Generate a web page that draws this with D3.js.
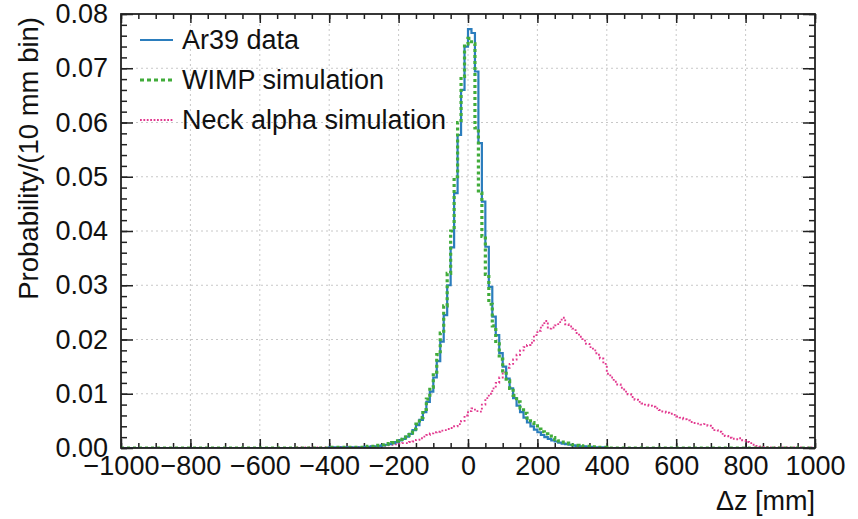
<!DOCTYPE html>
<html>
<head>
<meta charset="utf-8">
<script src="https://cdn.jsdelivr.net/npm/d3@7"></script>
<style>
  body { margin: 0; background: #fff; }
  #graf { width: 858px; height: 519px; }
  text { font-family: "Liberation Sans", Arial, Helvetica, sans-serif; fill: #111; }
</style>
</head>
<body>
<div id="graf"></div>
<script>
// ---------------- datos ----------------
// bins de 10 mm, de -1000 a 1000 (200 bins), valor = probabilidad por bin
const binStart = -1000
const binWidth = 10

const ar39 = [
  0,0,0,0,0,0,0,0,0,0,
  0,0,0,0,0,0,0,0,0,0,
  0,0,0,0,0,0,0,0,0,0,
  0,0,0,0,0,0,0,0,0,0,
  0,0,0,0,0,0,0,0,0,0,
  0,0,0,0,0,0,0,0,0,0,
  0.0001,0.0001,0.0001,0.0001,0.0001,0.0001,0.0001,0.0001,0.0001,0.0001,
  0.0002,0.0002,0.0003,0.0003,0.0004,0.0005,0.0006,0.0007,0.0009,0.0011,
  0.0014,0.0017,0.0021,0.0026,0.0033,0.0042,0.0052,0.0066,0.0085,0.0104,
  0.0130,0.0160,0.0196,0.0245,0.0300,0.0370,0.0470,0.0577,0.0660,0.0740,
  0.0772,0.0765,0.0694,0.0562,0.0454,0.0371,0.0297,0.0242,0.0208,0.0175,
  0.0150,0.0128,0.0110,0.0092,0.0078,0.0066,0.0056,0.0047,0.0040,0.0034,
  0.0029,0.0024,0.0020,0.0017,0.0014,0.0012,0.0010,0.0008,0.0007,0.0006,
  0.0005,0.0004,0.0003,0.0003,0.0002,0.0002,0.0001,0.0001,0.0001,0.0001,
  0,0,0,0,0,0,0,0,0,0,
  0,0,0,0,0,0,0,0,0,0,
  0,0,0,0,0,0,0,0,0,0,
  0,0,0,0,0,0,0,0,0,0,
  0,0,0,0,0,0,0,0,0,0,
  0,0,0,0,0,0,0,0,0,0
]

const wimp = [
  0,0,0,0,0,0,0,0,0,0,
  0,0,0,0,0,0,0,0,0,0,
  0,0,0,0,0,0,0,0,0,0,
  0,0,0,0,0,0,0,0,0,0,
  0,0,0,0,0,0,0,0,0,0,
  0,0,0,0,0,0,0,0,0,0,
  0.0001,0.0001,0.0001,0.0001,0.0001,0.0001,0.0001,0.0001,0.0001,0.0001,
  0.0002,0.0003,0.0003,0.0004,0.0005,0.0006,0.0007,0.0008,0.0010,0.0013,
  0.0016,0.0019,0.0023,0.0028,0.0035,0.0044,0.0056,0.0071,0.0090,0.0112,
  0.0140,0.0172,0.0212,0.0262,0.0322,0.0400,0.0500,0.0600,0.0685,0.0745,
  0.0755,0.0745,0.0590,0.0470,0.0390,0.0320,0.0265,0.0225,0.0192,0.0164,
  0.0142,0.0124,0.0110,0.0097,0.0085,0.0074,0.0064,0.0055,0.0047,0.0041,
  0.0035,0.0030,0.0026,0.0022,0.0019,0.0016,0.0013,0.0011,0.0009,0.0008,
  0.0006,0.0005,0.0004,0.0003,0.0003,0.0002,0.0002,0.0001,0.0001,0.0001,
  0,0,0,0,0,0,0,0,0,0,
  0,0,0,0,0,0,0,0,0,0,
  0,0,0,0,0,0,0,0,0,0,
  0,0,0,0,0,0,0,0,0,0,
  0,0,0,0,0,0,0,0,0,0,
  0,0,0,0,0,0,0,0,0,0
]

const neckAlpha = [
  0,0,0,0,0,0,0,0,0,0,
  0,0,0,0,0,0,0,0,0,0,
  0,0,0,0,0,0,0,0,0,0,
  0,0,0,0,0,0,0,0,0,0,
  0,0,0,0,0,0,0,0,0,0,
  0.0001,0.0001,0.0001,0.0001,0.0001,0.0001,0.0001,0.0001,0.0001,0.0001,
  0.0001,0.0001,0.0001,0.0002,0.0001,0.0002,0.0002,0.0001,0.0002,0.0002,
  0.0002,0.0002,0.0003,0.0003,0.0004,0.0004,0.0005,0.0006,0.0006,0.0007,
  0.0008,0.0009,0.0009,0.0011,0.0012,0.0015,0.0018,0.0021,0.0024,0.0027,
  0.0029,0.0030,0.0032,0.0033,0.0035,0.0037,0.0040,0.0044,0.0050,0.0060,
  0.0068,0.0073,0.0068,0.0067,0.0080,0.0092,0.0100,0.0110,0.0120,0.0130,
  0.0140,0.0148,0.0155,0.0163,0.0172,0.0180,0.0186,0.0190,0.0194,0.0208,
  0.0216,0.0226,0.0234,0.0220,0.0222,0.0226,0.0232,0.0240,0.0228,0.0224,
  0.0220,0.0212,0.0205,0.0198,0.0192,0.0186,0.0180,0.0172,0.0165,0.0155,
  0.0137,0.0130,0.0122,0.0117,0.0111,0.0104,0.0099,0.0094,0.0089,0.0085,
  0.0082,0.0080,0.0078,0.0076,0.0073,0.0070,0.0067,0.0065,0.0063,0.0061,
  0.0058,0.0056,0.0053,0.0051,0.0048,0.0046,0.0045,0.0043,0.0044,0.0041,
  0.0037,0.0033,0.0030,0.0026,0.0022,0.0019,0.0017,0.0016,0.0018,0.0014,
  0.0011,0.0009,0.0006,0.0004,0.0003,0.0002,0.0002,0.0001,0.0001,0.0001,
  0.0001,0.0001,0,0.0001,0,0.0001,0,0,0.0001,0
]

const seriesNames = ["Ar39 data", "WIMP simulation", "Neck alpha simulation"]
const xMajorTicks = [-1000, -800, -600, -400, -200, 0, 200, 400, 600, 800, 1000]
const yMajorTicks = [0, 0.01, 0.02, 0.03, 0.04, 0.05, 0.06, 0.07, 0.08]

// ---------------- dimensiones ----------------
const anchoTotal = 858
const altoTotal = 519
const margins = { top: 14, right: 43, bottom: 71, left: 121 }
const ancho = anchoTotal - margins.left - margins.right
const alto = altoTotal - margins.top - margins.bottom
const fs = 27

const svg = d3.select("#graf")
  .append("svg")
  .attr("width", anchoTotal)
  .attr("height", altoTotal)

const g = svg.append("g")
  .attr("transform", `translate(${margins.left}, ${margins.top})`)

// escaladores
const x = d3.scaleLinear().domain([-1000, 1000]).range([0, ancho])
const y = d3.scaleLinear().domain([0, 0.08]).range([alto, 0])

const xMinor = d3.range(-1000, 1001, 50)
const yMinor = d3.range(0, 0.0801, 0.002)

// rejilla punteada
g.append("g").selectAll("line")
  .data(xMajorTicks.slice(1, -1))
  .join("line")
  .attr("x1", d => x(d)).attr("x2", d => x(d))
  .attr("y1", 0).attr("y2", alto)
  .attr("stroke", "#c8c8c8").attr("stroke-width", 1)
  .attr("stroke-dasharray", "2,3")

g.append("g").selectAll("line")
  .data(yMajorTicks.slice(1, -1))
  .join("line")
  .attr("x1", 0).attr("x2", ancho)
  .attr("y1", d => y(d)).attr("y2", d => y(d))
  .attr("stroke", "#c8c8c8").attr("stroke-width", 1)
  .attr("stroke-dasharray", "2,3")

// ejes (ticks hacia dentro)
const tickStyle = sel => {
  sel.select(".domain").remove()
  sel.selectAll(".tick line").attr("stroke", "#222").attr("stroke-width", 1.5)
}
const labelStyle = sel => sel.selectAll("text")
  .attr("font-size", fs).attr("fill", "#111")
  .attr("font-family", "Liberation Sans, Arial, sans-serif")

g.append("g").attr("transform", `translate(0, ${alto})`)
  .call(d3.axisBottom(x).tickValues(xMinor).tickSize(-5).tickFormat(""))
  .call(tickStyle)
g.append("g")
  .call(d3.axisTop(x).tickValues(xMinor).tickSize(-5).tickFormat(""))
  .call(tickStyle)
g.append("g").attr("transform", `translate(0, ${alto})`)
  .call(d3.axisBottom(x).tickValues(xMajorTicks).tickSize(-9).tickPadding(8).tickFormat(d3.format("d")))
  .call(tickStyle)
  .call(labelStyle)
g.append("g")
  .call(d3.axisTop(x).tickValues(xMajorTicks).tickSize(-9).tickFormat(""))
  .call(tickStyle)

g.append("g")
  .call(d3.axisLeft(y).tickValues(yMinor).tickSize(-6).tickFormat(""))
  .call(tickStyle)
g.append("g").attr("transform", `translate(${ancho}, 0)`)
  .call(d3.axisRight(y).tickValues(yMinor).tickSize(-6).tickFormat(""))
  .call(tickStyle)
g.append("g")
  .call(d3.axisLeft(y).tickValues(yMajorTicks).tickSize(-12).tickPadding(13).tickFormat(d3.format(".2f")))
  .call(tickStyle)
  .call(labelStyle)
g.append("g").attr("transform", `translate(${ancho}, 0)`)
  .call(d3.axisRight(y).tickValues(yMajorTicks).tickSize(-12).tickFormat(""))
  .call(tickStyle)

// histogramas (escalones)
g.append("clipPath").attr("id", "clip")
  .append("rect").attr("width", ancho).attr("height", alto)

const stepLine = d3.line()
  .x(d => x(d[0]))
  .y(d => y(d[1]))
  .curve(d3.curveStepAfter)

const toSteps = vals => {
  const pts = vals.map((v, i) => [binStart + i * binWidth, v])
  pts.push([binStart + vals.length * binWidth, vals[vals.length - 1]])
  return pts
}

const series = [
  { name: seriesNames[2], values: neckAlpha, color: "#e2398f", width: 1.9, dash: "1.8,2.2" },
  { name: seriesNames[0], values: ar39, color: "#2b7dbd", width: 2.2, dash: null },
  { name: seriesNames[1], values: wimp, color: "#41ac3a", width: 3.2, dash: "3,3" }
]

g.append("g").attr("clip-path", "url(#clip)")
  .selectAll("path")
  .data(series)
  .join("path")
  .attr("d", d => stepLine(toSteps(d.values)))
  .attr("fill", "none")
  .attr("stroke", d => d.color)
  .attr("stroke-width", d => d.width)
  .attr("stroke-dasharray", d => d.dash)

// marco
g.append("rect")
  .attr("width", ancho).attr("height", alto)
  .attr("fill", "none").attr("stroke", "#222").attr("stroke-width", 1.8)

// leyenda
const legendItems = [series[1], series[2], series[0]]
const legend = g.append("g").attr("transform", "translate(19, 26)")
legendItems.forEach((s, i) => {
  const row = legend.append("g").attr("transform", `translate(0, ${i * 40})`)
  row.append("line")
    .attr("x1", 0).attr("x2", 33).attr("y1", 0).attr("y2", 0)
    .attr("stroke", s.color).attr("stroke-width", s.width)
    .attr("stroke-dasharray", s.dash ? (s.width > 3 ? "4,3" : "1.8,1.6") : null)
  row.append("text")
    .attr("x", 42).attr("y", 9)
    .attr("font-size", fs)
    .text(s.name)
})

// titulos de ejes
svg.append("text")
  .attr("x", margins.left + ancho)
  .attr("y", 510)
  .attr("text-anchor", "end")
  .attr("font-size", fs)
  .text("Δz [mm]")

svg.append("text")
  .attr("transform", `translate(38, ${margins.top + 3}) rotate(-90)`)
  .attr("text-anchor", "end")
  .attr("font-size", 27.5)
  .text("Probability/(10 mm bin)")
</script>
</body>
</html>
